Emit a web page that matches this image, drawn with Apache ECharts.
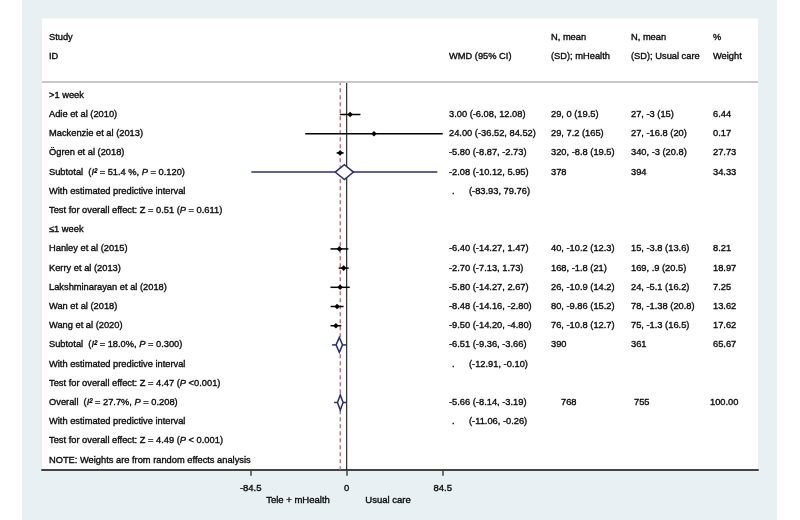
<!DOCTYPE html>
<html><head><meta charset="utf-8">
<script src="https://cdn.jsdelivr.net/npm/echarts@6/dist/echarts.min.js"></script>
<style>
html,body{margin:0;padding:0;}
body{background:linear-gradient(to right,#fff 0,#fff 22px,#e8f0f3 22px,#e8f0f3 777px,#fff 777px);}
#c{width:800px;height:520px;}
</style></head><body><div id="c"></div>
<script>
// ---- data ----
const studyNames = ['Adie et al (2010)','Mackenzie et al (2013)','Ögren et al (2018)','Hanley et al (2015)','Kerry et al (2013)','Lakshminarayan et al (2018)','Wan et al (2018)','Wang et al (2020)'];
const studyRows = [1,2,3,8,9,10,11,12];
const studyEst = [3.00,24.00,-5.80,-6.40,-2.70,-5.80,-8.48,-9.50];
const studyLo = [-6.08,-36.52,-8.87,-14.27,-7.13,-14.27,-14.16,-14.20];
const studyHi = [12.08,84.52,-2.73,1.47,1.73,2.67,-2.80,-4.80];
const studyMH = ['29, 0 (19.5)','29, 7.2 (165)','320, -8.8 (19.5)','40, -10.2 (12.3)','168, -1.8 (21)','26, -10.9 (14.2)','80, -9.86 (15.2)','76, -10.8 (12.7)'];
const studyUC = ['27, -3 (15)','27, -16.8 (20)','340, -3 (20.8)','15, -3.8 (13.6)','169, .9 (20.5)','24, -5.1 (16.2)','78, -1.38 (20.8)','75, -1.3 (16.5)'];
const studyWeight = [6.44,0.17,27.73,8.21,18.97,7.25,13.62,17.62];

const poolLabels = ['Subtotal','Subtotal','Overall'];
const poolRows = [4,13,16];
const poolEst = [-2.08,-6.51,-5.66];
const poolLo = [-10.12,-9.36,-8.14];
const poolHi = [5.95,-3.66,-3.19];
const poolPiLo = [-83.93,-12.91,-11.06];
const poolPiHi = [79.76,-0.10,-0.26];
const poolI2 = ['51.4 %','18.0%','27.7%'];
const poolHetP = ['0.120','0.300','0.208'];
const poolNMH = ['378','390','768'];
const poolNUC = ['394','361','755'];
const poolWeight = [34.33,65.67,100.00];
const piRows = [5,14,17];

const testRows = [6,15,18];
const testZ = ['0.51','4.47','4.49'];
const testP = ['= 0.611','<0.001','< 0.001'];

const groupLabels = ['>1 week','≤1 week'];
const groupRows = [0,7];
const noteRow = 19;
const noteText = 'NOTE: Weights are from random effects analysis';

const xTicks = [-84.5, 0, 84.5];
const nullValue = 0;
const overallEst = poolEst[2];

// ---- layout ----
const FONT = 'Liberation Sans, Arial, sans-serif';
const FS = 9.3;
const INK = '#0a0a0a';
const col = {id:49, wmd:449, dot:452, pi:469, mh:551, uc:631, w:713};
const colOverall = {mh:561, uc:634, w:710};

const texts = [];
function T(x,row,text){texts.push({x,row,text});}
T(col.id,-3,'Study'); T(col.id,-2,'ID');
T(col.wmd,-2,'WMD (95% CI)');
T(col.mh,-3,'N, mean'); T(col.mh,-2,'(SD); mHealth');
T(col.uc,-3,'N, mean'); T(col.uc,-2,'(SD); Usual care');
T(col.w,-3,'%'); T(col.w,-2,'Weight');
groupLabels.forEach((g,i)=>T(col.id,groupRows[i],g));
studyNames.forEach((s,i)=>{
  const r = studyRows[i];
  T(col.id,r,s);
  T(col.wmd,r,studyEst[i].toFixed(2)+' ('+studyLo[i].toFixed(2)+', '+studyHi[i].toFixed(2)+')');
  T(col.mh,r,studyMH[i]); T(col.uc,r,studyUC[i]); T(col.w,r,studyWeight[i].toFixed(2));
});
poolLabels.forEach((p,i)=>{
  const r = poolRows[i];
  const c = i===2 ? colOverall : col;
  T(col.id,r,'{n|'+p+'  (}{i|I²}{n| = '+poolI2[i]+', }{i|P}{n| = '+poolHetP[i]+')}');
  T(col.wmd,r,poolEst[i].toFixed(2)+' ('+poolLo[i].toFixed(2)+', '+poolHi[i].toFixed(2)+')');
  T(c.mh,r,poolNMH[i]); T(c.uc,r,poolNUC[i]); T(c.w,r,poolWeight[i].toFixed(2));
  T(col.id,piRows[i],'With estimated predictive interval');
  T(col.dot,piRows[i],'.');
  T(col.pi,piRows[i],'('+poolPiLo[i].toFixed(2)+', '+poolPiHi[i].toFixed(2)+')');
});
testRows.forEach((r,i)=>T(col.id,r,'{n|Test for overall effect: Z = '+testZ[i]+' (}{i|P}{n| '+testP[i]+')}'));
T(col.id,noteRow,noteText);

const rich = {
  n:{fontFamily:FONT,fontSize:FS,fill:INK,stroke:INK,lineWidth:0.35},
  i:{fontFamily:FONT,fontSize:FS,fontStyle:'italic',fill:INK,stroke:INK,lineWidth:0.35}
};

const chart = echarts.init(document.getElementById('c'));
chart.setOption({
  animation:false,
  backgroundColor:'transparent',
  grid:{left:42,right:42,top:18.5,bottom:50.3,show:true,backgroundColor:'#fff',borderWidth:0},
  xAxis:{type:'value',min:-268.2,max:362,
    axisLine:{show:true,onZero:false,lineStyle:{color:'#444',width:2}},
    axisTick:{show:true,customValues:xTicks,length:6,lineStyle:{color:'#444',width:1.5}},
    axisLabel:{customValues:xTicks,formatter:v=>String(v),color:INK,fontSize:9.5,fontFamily:FONT,margin:14,textBorderColor:INK,textBorderWidth:0.35},
    splitLine:{show:false}},
  yAxis:{type:'value',min:-4,max:19.5,inverse:true,show:false},
  graphic:[
    {type:'line',z:10,shape:{x1:42,y1:82,x2:758,y2:82},style:{stroke:'#c8c8c8',lineWidth:2}},
    {type:'text',z:10,x:298,y:500,style:{text:'Tele + mHealth',align:'center',verticalAlign:'middle',font:'9.5px '+FONT,fill:INK,stroke:INK,lineWidth:0.35}},
    {type:'text',z:10,x:388,y:500,style:{text:'Usual care',align:'center',verticalAlign:'middle',font:'9.5px '+FONT,fill:INK,stroke:INK,lineWidth:0.35}}
  ],
  series:[
    {type:'line',data:[[nullValue,-0.73],[nullValue,19.5]],symbol:'none',lineStyle:{color:'#000',width:1},silent:true,z:2},
    {type:'line',data:[[overallEst,-0.73],[overallEst,19.5]],symbol:'none',lineStyle:{color:'#c0767e',width:1.5,type:[4,3]},silent:true,z:3},
    {type:'custom',z:5,clip:false,
      data:studyRows.map((r,i)=>[studyEst[i],r,studyLo[i],studyHi[i]]),
      encode:{x:[0,2,3],y:1},
      renderItem(params,api){
        const r=api.value(1);
        const p=api.coord([api.value(0),r]);
        const a=api.coord([api.value(2),r]);
        const b=api.coord([api.value(3),r]);
        const s=2.8;
        return {type:'group',children:[
          {type:'line',shape:{x1:a[0],y1:a[1],x2:b[0],y2:b[1]},style:{stroke:'#000',lineWidth:1.5}},
          {type:'polygon',shape:{points:[[p[0]-s,p[1]],[p[0],p[1]-s],[p[0]+s,p[1]],[p[0],p[1]+s]]},style:{fill:'#000'}}
        ]};
      }},
    {type:'custom',z:6,clip:false,
      data:poolRows.map((r,i)=>[poolEst[i],r,poolLo[i],poolHi[i],poolPiLo[i],poolPiHi[i]]),
      encode:{x:[0,2,3,4,5],y:1},
      renderItem(params,api){
        const r=api.value(1);
        const p=api.coord([api.value(0),r]);
        const a=api.coord([api.value(2),r]);
        const b=api.coord([api.value(3),r]);
        const c=api.coord([api.value(4),r]);
        const d=api.coord([api.value(5),r]);
        const h=7.5;
        return {type:'group',children:[
          {type:'line',shape:{x1:c[0],y1:c[1],x2:d[0],y2:d[1]},style:{stroke:'#2a2f72',lineWidth:1.5}},
          {type:'polygon',shape:{points:[[a[0],a[1]],[p[0],p[1]-h],[b[0],b[1]],[p[0],p[1]+h]]},style:{fill:'#fff',stroke:'#2a2f72',lineWidth:1.5}}
        ]};
      }},
    {type:'custom',z:7,clip:false,silent:true,
      data:texts.map(t=>[0,t.row]),
      encode:{y:1},
      renderItem(params,api){
        const t=texts[params.dataIndex];
        const y=api.coord([0,t.row])[1];
        return {type:'text',x:t.x,y:y,style:{text:t.text,rich:rich,fontFamily:FONT,fontSize:FS,fill:INK,stroke:INK,lineWidth:0.35,align:'left',verticalAlign:'middle'}};
      }}
  ]
});
</script></body></html>
